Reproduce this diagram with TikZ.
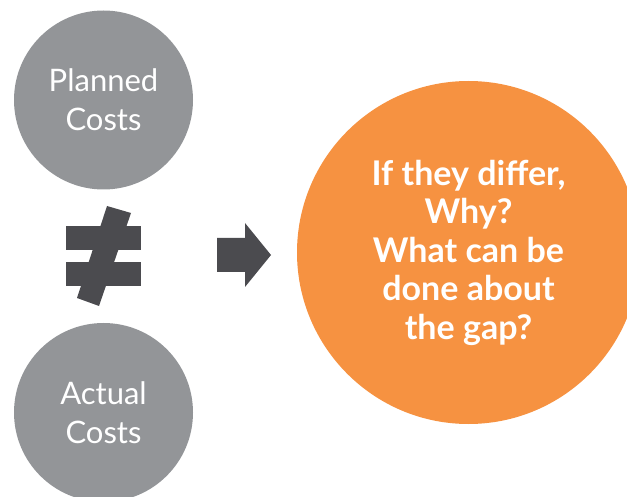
\documentclass[tikz,border=0pt]{standalone}
\usepackage{fontspec}
\setmainfont{Lato}
\definecolor{costgray}{HTML}{939598}
\definecolor{signgray}{HTML}{4B4B4F}
\definecolor{gaporange}{HTML}{F69241}
\begin{document}
\begin{tikzpicture}[x=1pt,y=-1pt,
  costcircle/.style={circle, fill=costgray, minimum size=179pt, inner sep=0pt,
    text=white, align=center, font=\fontsize{31}{39}\selectfont},
  gapcircle/.style={circle, fill=gaporange, minimum size=343pt, inner sep=0pt,
    text=white, align=center, font=\fontsize{34}{38.5}\selectfont\bfseries}]
\clip (0,0) rectangle (627,497);
\node [costcircle] (planned) at (103.5,100) {Planned\\Costs};
\node [costcircle] (actual) at (103.5,412.5) {Actual\\Costs};
\node [gapcircle] (gap) at (468.5,252.5) {If they differ,\\Why?\\What can be\\done about\\the gap?};
% not-equal sign
\fill [signgray] (66,226) rectangle (141,250);
\fill [signgray] (66,262) rectangle (141,286);
\fill [signgray] (107,206) -- (131,213) -- (99,306) -- (77,298) -- cycle;
% block arrow
\fill [signgray] (217,238) -- (245,238) -- (245,223) -- (271,255) -- (245,287)
  -- (245,272) -- (217,272) -- cycle;
\end{tikzpicture}
\end{document}
